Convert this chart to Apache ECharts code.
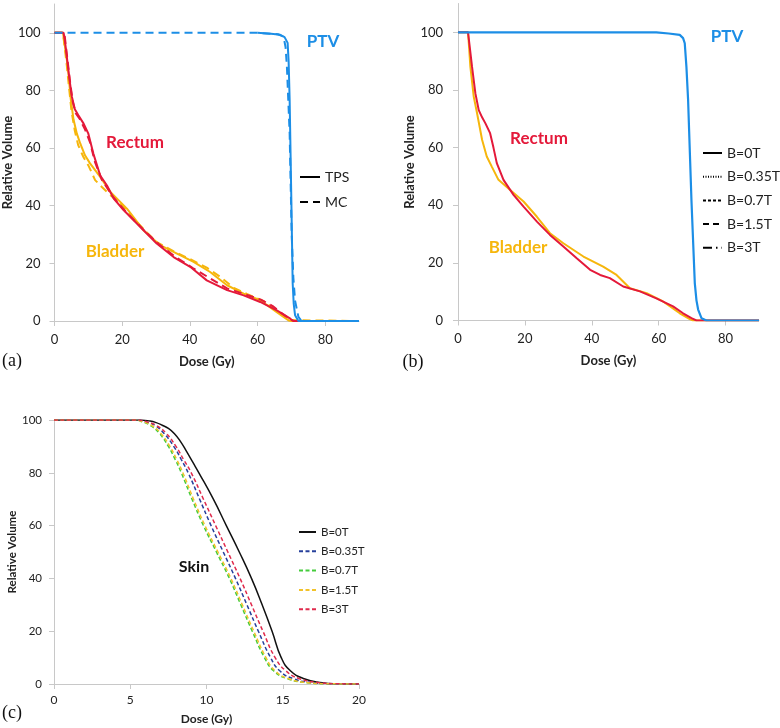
<!DOCTYPE html>
<html>
<head>
<meta charset="utf-8">
<script src="https://cdn.jsdelivr.net/npm/echarts@6/dist/echarts.min.js"></script>
<style>html,body{margin:0;padding:0;background:#fff}#c{width:780px;height:728px}</style>
</head>
<body>
<div id="c"></div>
<script>
// ---------- DATA (dose Gy, relative volume %) ----------
// Panel (a): TPS vs MC
const rectumTPS_a = [[0,100],[2.7,100],[3.2,96],[3.8,90],[4.4,84],[5.1,78],[6.0,73.5],[7.0,71.5],[8.6,68.5],[10,65],[11.5,58],[13.5,50.5],[15.5,47],[17.5,42.5],[20.4,38.5],[25.3,32.7],[30.2,26.9],[35.2,22.2],[40.1,18.8],[45,14.1],[51,10.7],[55.9,8.9],[60.8,6.6],[65.7,3.7],[69.7,0.8],[70.6,0],[90,0]];
const rectumMC_a = [[0,100],[2.9,100],[3.4,95],[4,89],[4.7,82],[5.4,76],[6.3,72],[7.5,70],[9,66.5],[10.5,62],[12,55],[14,49],[17,43.5],[21,38],[26,32],[31,26.5],[36,22],[41,18.3],[46,14.8],[51,11.3],[56,9.4],[61,7.4],[64.5,5.2],[67,2.8],[70,0.3],[71,0],[90,0]];
const bladderTPS_a = [[0,100],[2.5,100],[3.0,96],[3.6,91],[4.1,86],[4.8,77],[5.6,70],[6.6,65],[7.6,61.6],[9,57.5],[10.5,54.7],[13.5,50],[16.5,44.8],[21.4,39],[26.3,31.5],[31.2,26.3],[36.2,23.4],[41.1,20.5],[46,17],[51,12.4],[55.9,9.5],[60.8,7.2],[65.7,3.1],[69.2,0.2],[70,0],[90,0]];
const bladderMC_a = [[0,100],[2.5,100],[3,95],[3.6,89],[4.2,82],[5,73],[6,66],[7,61],[8.5,57],[10,54],[12,48.9],[14,46.5],[15.5,44.8],[20,40],[25,33.5],[30,27.5],[35,24.3],[40,21.5],[45,18.5],[49,15.3],[53,11.5],[57,9.3],[62,6.8],[66,3.2],[69.5,0.3],[70,0],[90,0]];
const ptvTPS_a = [[60,100],[64,99.7],[66.7,99.3],[68,98.5],[68.9,96.5],[69.2,90],[69.5,76.7],[70,42],[70.4,13],[70.7,6],[71.1,2],[72.1,0],[90,0]];
const ptvMC_a = [[0,100],[60,100],[66,99.5],[67.7,98.7],[68.3,95],[68.7,88],[69.5,65],[70.1,30],[70.6,15],[71.1,7],[72.1,1.4],[73,0],[90,0]];

// Panel (b): magnetic field strengths (curves overlap)
const rectum_b = [[0,100],[3,100],[3.5,95],[4.2,88],[5.2,78.8],[6.2,73],[7.2,70.5],[8.2,68.4],[9.6,65],[10.6,60],[11.6,54.6],[13.6,48.8],[16.6,43.6],[19.6,39.5],[23.6,34.3],[27.5,29.7],[31.5,25.7],[35.5,21.6],[39.5,17.6],[42.5,15.8],[45.4,14.7],[49.4,11.8],[54.4,10.1],[59.3,7.7],[64.3,4.9],[67.3,2.5],[69.8,0.8],[71.3,0],[90,0]];
const bladder_b = [[0,100],[3,100],[3.3,95],[3.7,88],[4.7,77.7],[5.7,71.9],[7.2,62.7],[8.6,56.9],[10.1,53.4],[12.1,48.8],[15.6,45.3],[19.6,41.3],[23.6,36],[27.5,30.3],[31.5,26.8],[37.5,22.2],[43.4,18.7],[47.4,15.8],[51.4,11.2],[56.4,9.5],[61.3,6.6],[66.3,2.5],[69.3,0.5],[70.3,0],[90,0]];
const ptv_b = [[0,100],[59.3,100],[63,99.6],[66.3,99.1],[67.3,98],[67.8,96.2],[68.3,88],[68.8,76.5],[69.8,41.8],[70.8,13],[71.3,7],[71.8,3.8],[72.8,0.8],[74.3,0],[90,0]];
const fieldLabels = ['B=0T','B=0.35T','B=0.7T','B=1.5T','B=3T'];

// Panel (c): skin
const skin_0T   = [[0,100],[5.6,100],[6.3,99.6],[6.7,99],[7.1,98],[7.5,96.8],[7.9,94.8],[8.3,91.8],[8.7,88],[9.1,84],[9.5,80],[10.45,70],[11.3,60],[12.15,50],[12.95,40],[13.65,30],[14.3,20],[14.9,10],[15.5,5],[16.4,2],[17.6,0.5],[18.5,0.1],[20,0]];
const skin_035T = [[0,100],[5.4,100],[6.0,99.3],[6.6,98],[7.2,95],[7.85,90],[8.35,85],[8.8,80],[9.55,70],[10.3,60],[11.1,50],[11.9,40],[12.65,30],[13.4,20],[14.2,10],[14.8,5],[15.7,2],[17.0,0.5],[18.2,0.1],[20,0]];
const skin_07T  = [[0,100],[5.3,100],[5.8,99.3],[6.3,98],[6.9,95],[7.5,90],[7.95,85],[8.35,80],[9.05,70],[9.8,60],[10.65,50],[11.5,40],[12.25,30],[13.0,20],[13.8,10],[14.4,5],[15.3,2],[16.6,0.5],[17.8,0.1],[20,0]];
const skin_15T  = [[0,100],[5.3,100],[5.85,99.3],[6.4,98],[7.0,95],[7.6,90],[8.05,85],[8.45,80],[9.15,70],[9.9,60],[10.75,50],[11.6,40],[12.35,30],[13.1,20],[13.9,10],[14.5,5],[15.4,2],[16.7,0.5],[17.9,0.1],[20,0]];
const skin_3T   = [[0,100],[5.5,100],[6.1,99.3],[6.7,98],[7.35,95],[8.0,90],[8.5,85],[9.0,80],[9.8,70],[10.6,60],[11.4,50],[12.2,40],[12.95,30],[13.7,20],[14.5,10],[15.2,5],[16.1,2],[17.4,0.5],[18.5,0.1],[20,0]];

const xTicksAB = [0,20,40,60,80];
const yTicksAB = [0,20,40,60,80,100];
const xTicksC = [0,5,10,15,20];
const yTicksC = [0,20,40,60,80,100];

// ---------- STYLE ----------
const RED = '#e4193a', YEL = '#f6b60c', BLU = '#1c8ee6';
const AX = '#c8c8c8', TXT = '#222';
const FONT = 'Lato';

function xAxis(grid, max, ticks, fs, margin, gap, nameFs) {
  return {
    type: 'value', gridIndex: grid, min: 0, max: max,
    axisLine: {show: true, onZero: false, lineStyle: {color: AX, width: 1}},
    axisTick: {show: true, customValues: ticks, length: 5, lineStyle: {color: AX}},
    axisLabel: {customValues: ticks, fontSize: fs, color: TXT, fontFamily: FONT, margin: margin},
    splitLine: {show: false},
    name: 'Dose (Gy)', nameLocation: 'middle', nameGap: gap,
    nameTextStyle: {fontSize: nameFs, fontWeight: 'bold', color: TXT, fontFamily: FONT}
  };
}
function yAxis(grid, max, ticks, fs, margin, gap, nameFs) {
  return {
    type: 'value', gridIndex: grid, min: 0, max: max,
    axisLine: {show: true, lineStyle: {color: AX, width: 1}},
    axisTick: {show: true, customValues: ticks, length: 5, lineStyle: {color: AX}},
    axisLabel: {customValues: ticks, fontSize: fs, color: TXT, fontFamily: FONT, margin: margin},
    splitLine: {show: false},
    name: 'Relative Volume', nameLocation: 'middle', nameGap: gap,
    nameTextStyle: {fontSize: nameFs, fontWeight: 'bold', color: TXT, fontFamily: FONT}
  };
}
function line(name, data, grid, color, width, type, z) {
  return {
    name: name, type: 'line', data: data, xAxisIndex: grid, yAxisIndex: grid,
    symbol: 'none', showSymbol: false, smooth: false, z: z || 2,
    lineStyle: {color: color, width: width, type: type || 'solid'},
    itemStyle: {color: color}
  };
}
function sline(name, data, grid, color, width, type, z) {
  const s = line(name, data, grid, color, width, type, z);
  s.smooth = 0.5;
  return s;
}
const DASH_A = [8,5];
const bTypes = ['solid', [1,1.5], [3,2], [6,4], [9,4,1.5,4]];
const cDash = [4,2.5];

const series = [
  // panel a
  line('a|bladderMC', bladderMC_a, 0, YEL, 2, DASH_A, 2),
  line('a|bladderTPS', bladderTPS_a, 0, YEL, 2, 'solid', 2),
  line('a|rectumMC', rectumMC_a, 0, RED, 2, DASH_A, 3),
  line('a|rectumTPS', rectumTPS_a, 0, RED, 2, 'solid', 3),
  line('a|ptvMC', ptvMC_a, 0, BLU, 2, DASH_A, 4),
  line('a|ptvTPS', ptvTPS_a, 0, BLU, 2, 'solid', 4),
  line('a|TPS', [], 0, '#000', 2, 'solid'),
  line('a|MC', [], 0, '#000', 2, DASH_A),
  // panel b
  line('b|bladder', bladder_b, 1, YEL, 2, 'solid', 2),
  line('b|rectum', rectum_b, 1, RED, 2, 'solid', 3),
  line('b|ptv', ptv_b, 1, BLU, 2.2, 'solid', 4)
];
fieldLabels.forEach((f, i) => series.push(line('b|' + f, [], 1, '#000', 1.6, bTypes[i])));
// panel c
const skinSets = [skin_0T, skin_035T, skin_07T, skin_15T, skin_3T];
const skinColors = ['#111111', '#27409c', '#44cc3c', '#f2c22a', '#e02a4c'];
skinSets.forEach((d, i) => series.push(sline('c|' + fieldLabels[i], d, 2, skinColors[i], 1.5, i === 0 ? 'solid' : cDash, i === 0 ? 3 : 4 + (i === 2 ? 0 : 1))));

const fmt = n => n.split('|')[1];
function legend(left, top, names, fs, lh, gap, w) {
  return {
    orient: 'vertical', left: left, top: top, data: names, formatter: fmt,
    selectedMode: false, itemWidth: w, itemHeight: 12, itemGap: gap, padding: 0,
    itemStyle: {opacity: 0},
    textStyle: {fontSize: fs, lineHeight: lh, color: TXT, fontFamily: FONT}
  };
}

function txt(text, x, y, color, size, family, weight) {
  return {
    type: 'text', x: x, y: y, silent: true,
    style: {text: text, fill: color, fontSize: size, fontFamily: family || FONT, fontWeight: weight || 'bold',
      align: 'center', verticalAlign: 'middle', textAlign: 'center', textVerticalAlign: 'middle'}
  };
}

const option = {
  animation: false,
  backgroundColor: '#fff',
  grid: [
    {left: 54, top: 4, width: 305, height: 317},
    {left: 458, top: 3.5, width: 301, height: 317},
    {left: 54, top: 420, width: 305, height: 264}
  ],
  xAxis: [
    xAxis(0, 90, xTicksAB, 13, 12, 34, 13),
    xAxis(1, 90, xTicksAB, 13, 12, 34, 13),
    xAxis(2, 20, xTicksC, 12, 10, 29, 12)
  ],
  yAxis: [
    yAxis(0, 110, yTicksAB, 13, 14, 40, 13),
    yAxis(1, 110, yTicksAB, 13, 15, 42, 13),
    yAxis(2, 100, yTicksC, 11.5, 12, 35, 11.5)
  ],
  legend: [
    legend(299, 169, ['a|TPS', 'a|MC'], 14, 16, 9, 20),
    legend(702, 145, fieldLabels.map(f => 'b|' + f), 14, 16, 7.7, 19),
    legend(298, 525, fieldLabels.map(f => 'c|' + f), 11.5, 14, 5.3, 17)
  ],
  graphic: [
    txt('PTV', 323, 42, BLU, 17),
    txt('Rectum', 135, 143, RED, 17),
    txt('Bladder', 115, 252, YEL, 17),
    txt('PTV', 727, 37, BLU, 17),
    txt('Rectum', 539, 139, RED, 17),
    txt('Bladder', 518, 248, YEL, 17),
    txt('Skin', 194, 567, '#111', 16),
    txt('(a)', 12, 361, '#111', 18, 'Liberation Serif', 'normal'),
    txt('(b)', 413, 362, '#111', 18, 'Liberation Serif', 'normal'),
    txt('(c)', 12, 713, '#111', 18, 'Liberation Serif', 'normal')
  ],
  series: series
};
const chart = echarts.init(document.getElementById('c'), null, {renderer: 'canvas'});
chart.setOption(option);
</script>
</body>
</html>
